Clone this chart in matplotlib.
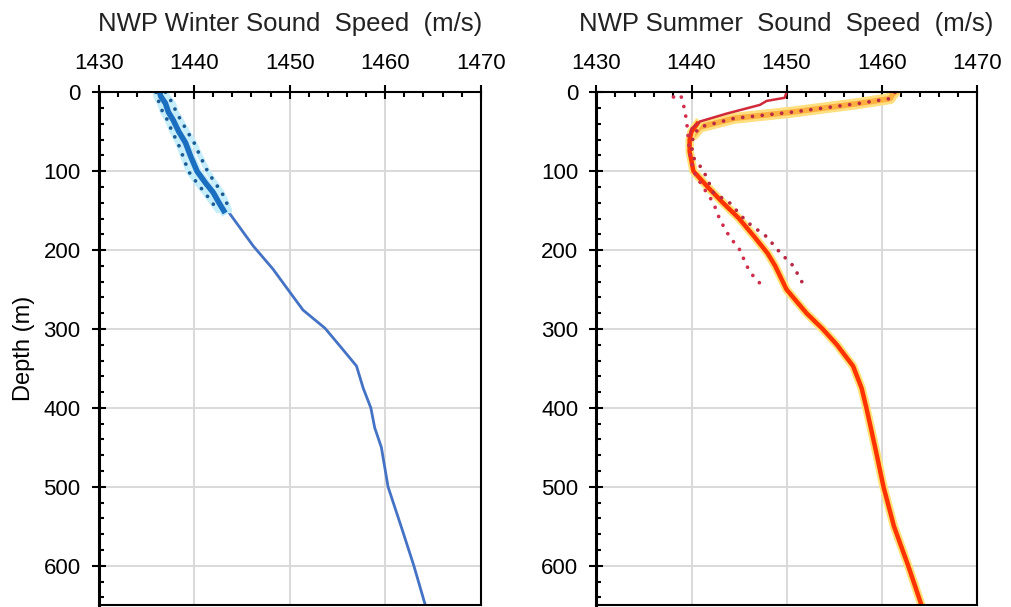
import matplotlib
matplotlib.use('Agg')
import matplotlib.pyplot as plt
import matplotlib.patheffects as pe
import numpy as np
from matplotlib.ticker import MultipleLocator

plt.rcParams['font.family'] = ['Liberation Sans', 'DejaVu Sans']

# ---- winter profile ----
winter_top_depth = [0, 5, 14, 25, 35, 50, 64, 80, 100, 115, 127, 140, 150]
winter_top_mean = [1436.4, 1436.5, 1437.0, 1437.3, 1437.8, 1438.4, 1439.1, 1439.6, 1440.3, 1441.2, 1442.0, 1442.6, 1443.1]
winter_top_lo = [1436.0, 1436.0, 1436.4, 1436.7, 1437.2, 1437.7, 1438.3, 1438.8, 1439.4, 1440.3, 1441.1, 1441.9, 1442.5]
winter_top_hi = [1437.0, 1437.2, 1437.8, 1438.1, 1438.6, 1439.3, 1440.0, 1440.6, 1441.4, 1442.2, 1442.9, 1443.4, 1443.7]

winter_deep_depth = [150, 195, 224, 253, 276, 299, 325, 347, 375, 400, 425, 450, 500, 555, 600, 650]
winter_deep_speed = [1443.5, 1446.2, 1448.25, 1450.0, 1451.4, 1453.7, 1455.5, 1457.0, 1457.7, 1458.5, 1458.9, 1459.6, 1460.3, 1461.8, 1463.0, 1464.2]

# ---- summer profile ----
summer_main_depth = [40, 50, 60, 75, 100, 120, 140, 160, 183, 204, 220, 250, 280, 300, 320, 347, 375, 400, 427, 460, 500, 550, 600, 650]
summer_main_speed = [1440.6, 1440.0, 1439.8, 1439.8, 1440.2, 1441.7, 1443.3, 1445.0, 1446.6, 1448.0, 1448.8, 1450.0, 1452.1, 1453.8, 1455.3, 1457.0, 1457.9, 1458.4, 1458.9, 1459.5, 1460.2, 1461.3, 1462.8, 1464.2]

summer_surf_depth = [0, 7, 11, 16, 27, 37, 46, 55]
summer_surf_speed = [1450.0, 1449.8, 1447.9, 1447.2, 1443.7, 1440.9, 1440.0, 1439.8]

summer_hi_depth = [0, 2, 8, 14, 25, 33, 44, 54, 69, 85, 98, 127, 140, 164, 183, 203, 220, 240]
summer_hi_speed = [1461.4, 1461.2, 1460.9, 1457.7, 1450.7, 1444.5, 1440.9, 1440.2, 1440.0, 1440.3, 1441.2, 1442.3, 1444.0, 1445.8, 1447.9, 1449.3, 1450.7, 1451.6]

summer_lo_depth = [6, 3, 8, 14, 23, 31, 39, 50, 65, 85, 102, 120, 140, 162, 183, 200, 220, 233, 246]
summer_lo_speed = [1438.1, 1438.8, 1439.0, 1439.1, 1439.3, 1439.4, 1439.5, 1439.6, 1439.7, 1439.9, 1440.3, 1441.2, 1442.3, 1443.0, 1444.0, 1445.1, 1445.8, 1446.5, 1447.5]

x_ticks = [1430, 1440, 1450, 1460, 1470]
y_ticks = [0, 100, 200, 300, 400, 500, 600]

fig = plt.figure(figsize=(10.11, 6.07), dpi=100)
ax1 = fig.add_axes([0.0975, 0.003, 0.378, 0.845])
ax2 = fig.add_axes([0.590, 0.003, 0.376, 0.845])

dot = dict(linestyle=(0, (0.01, 2.6)), dash_capstyle='round', linewidth=2.7)


def style(ax, title):
    ax.set_xlim(1430, 1470)
    ax.set_ylim(650, 0)
    ax.xaxis.tick_top()
    ax.set_xticks(x_ticks)
    ax.set_yticks(y_ticks)
    ax.xaxis.set_minor_locator(MultipleLocator(2))
    ax.yaxis.set_minor_locator(MultipleLocator(20))
    ax.tick_params(which='major', direction='inout', length=10, width=1.5,
                   labelsize=16, colors='black')
    ax.tick_params(axis='x', which='major', pad=8)
    ax.tick_params(axis='y', which='major', pad=8)
    ax.tick_params(which='minor', direction='in', length=3.5, width=1.5)
    ax.tick_params(axis='x', which='both', top=True, bottom=False)
    ax.tick_params(axis='y', which='both', left=True, right=False)
    for s in ax.spines.values():
        s.set_linewidth(1.5)
        s.set_color('black')
    ax.spines['left'].set_linewidth(2.2)
    ax.grid(True, which='major', color='#d9d9d9', linewidth=1.4)
    ax.set_axisbelow(True)
    ax.set_title(title, fontsize=18.5, pad=44, color='#222222')


style(ax1, 'NWP Winter Sound  Speed  (m/s)')
style(ax2, 'NWP Summer  Sound  Speed  (m/s)')
ax1.set_ylabel('Depth (m)', fontsize=17, labelpad=6)

# winter
ax1.plot(winter_deep_speed, winter_deep_depth, color='#4472c4', linewidth=2)
for band in (winter_top_lo, winter_top_hi):
    ax1.plot(band, winter_top_depth, color='#c6eefa', linewidth=4, solid_capstyle='round')
ax1.plot(winter_top_mean, winter_top_depth, color='#1a6fc0', linewidth=4,
         path_effects=[pe.withStroke(linewidth=6.5, foreground='#c6eefa')])
for band in (winter_top_lo, winter_top_hi):
    ax1.plot(band, winter_top_depth, color='#1b5a94', **dot)

# summer
hi_d = np.array(summer_hi_depth)
hi_s = np.array(summer_hi_speed)
top = hi_d <= 62
ax2.plot(hi_s[top], hi_d[top], color='#ffdf80', linewidth=8, solid_capstyle='round')
ax2.plot(hi_s[top], hi_d[top], color='#ffb040', linewidth=4, solid_capstyle='round')
ax2.plot(summer_main_speed, summer_main_depth, color='#ff3300', linewidth=3.2,
         path_effects=[pe.withStroke(linewidth=6, foreground='#ffe27a')])
ax2.plot(summer_surf_speed, summer_surf_depth, color='#d02a3a', linewidth=1.8)
ax2.plot(summer_hi_speed, summer_hi_depth, color='#b82a44', **dot)
ax2.plot(summer_lo_speed, summer_lo_depth, color='#d02e4c', **dot)

fig.savefig('out.png', dpi=100)
